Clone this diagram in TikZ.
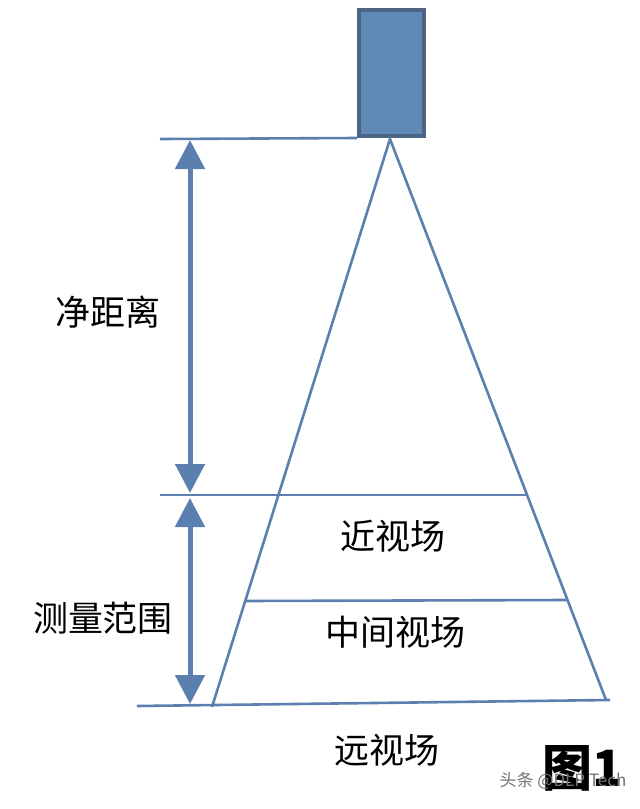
\documentclass[tikz,border=0pt]{standalone}
\usepackage{fontspec}
\newfontfamily\cjk{Noto Sans CJK SC}
\usetikzlibrary{arrows.meta}
\definecolor{lineblue}{RGB}{91,127,174}
\definecolor{camfill}{RGB}{97,137,182}
\definecolor{camedge}{RGB}{77,101,133}

\tikzset{
  fovline/.style={draw=lineblue, line width=2.6pt},
  measarrow/.style={draw=lineblue, line width=5pt,
    arrows={Triangle[length=29pt,width=29pt,fill=lineblue]-Triangle[length=29pt,width=29pt,fill=lineblue]}},
  zonelabel/.style={font=\cjk\fontsize{35}{40}\selectfont, inner sep=0pt}
}

\begin{document}
\begin{tikzpicture}[x=1pt, y=-1pt]
    \useasboundingbox (0,0) rectangle (640,809);

    % Camera
    \node[draw=camedge, fill=camfill, line width=4pt, inner sep=0pt,
          minimum width=65pt, minimum height=126pt] (camera) at (391.5,73) {};

    % Field of view
    \coordinate (apex) at (390,139);
    \coordinate (farleft) at (212,707);
    \coordinate (farright) at (606,700);
    \draw[fovline] (farleft) -- (apex) -- (farright);

    % Reference lines
    \coordinate (topend) at (160,139);
    \coordinate (nearleft) at (160,495);
    \coordinate (nearright) at (527,495);
    \coordinate (midleft) at (245,601);
    \coordinate (midright) at (567,600);
    \coordinate (baseleft) at (137,706);
    \coordinate (baseright) at (610,700);
    \draw[fovline] (topend) -- (camera.south west);
    \draw[fovline] (nearleft) -- (nearright);
    \draw[fovline] (midleft) -- (midright);
    \draw[fovline] (baseleft) -- (baseright);

    % Dimension arrows
    \coordinate (clearA) at (190,140);
    \coordinate (clearB) at (190,493);
    \coordinate (rangeA) at (190,498);
    \coordinate (rangeB) at (190,704);
    \draw[measarrow] (clearA) -- (clearB);
    \draw[measarrow] (rangeA) -- (rangeB);

    % Labels
    \node[zonelabel] (clearance) at (108,312) {净距离};
    \node[zonelabel] (range) at (103,618) {测量范围};
    \node[zonelabel] (nearfov) at (393,536) {近视场};
    \node[zonelabel] (midfov) at (395,632) {中间视场};
    \node[zonelabel] (farfov) at (387,750) {远视场};
    \node[font=\cjk\bfseries\fontsize{50}{55}\selectfont, inner sep=0pt] (figno) at (583,768) {图1};
    \node[font=\cjk\fontsize{17}{20}\selectfont, text=black!55, inner sep=0pt] (mark) at (563,781) {头条 @DLP Tech};
\end{tikzpicture}
\end{document}
